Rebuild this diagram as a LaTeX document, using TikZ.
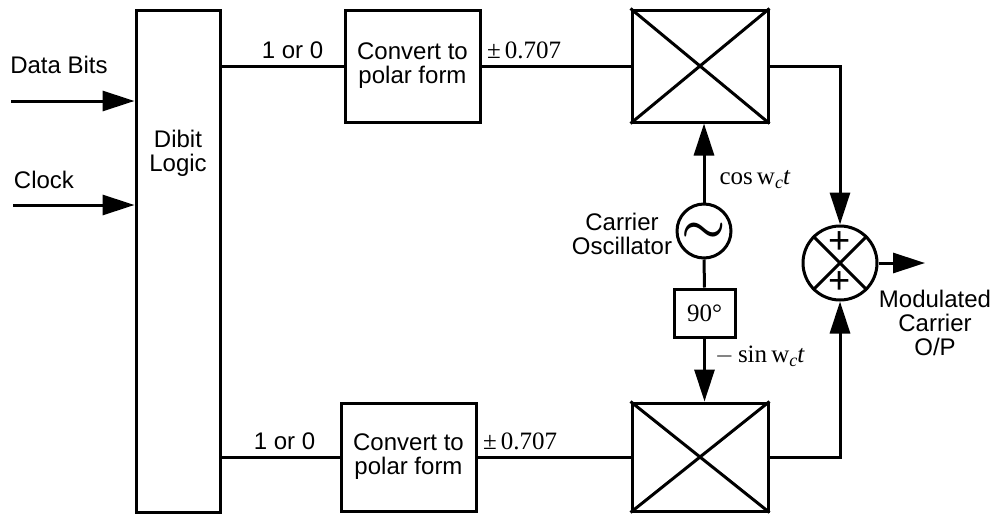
\documentclass[tikz,border=0pt]{standalone}
\usepackage{amsmath}
\usepackage{fontspec}
\setmainfont{Liberation Serif}
\setsansfont{Liberation Sans}
\usepackage{tikz}
\usetikzlibrary{positioning,arrows.meta,calc}

\begin{document}
\begin{tikzpicture}[x=0.5pt,y=-0.5pt,line width=1.5pt,font=\sffamily,
    >={Triangle[length=16pt,width=10pt]}]
  \tikzset{
    blk/.style={rectangle,draw=black,line width=1.5pt,inner sep=0pt,align=center,
                font=\sffamily\fontsize{12}{12}\selectfont},
    ring/.style={circle,draw=black,line width=1.5pt,inner sep=0pt},
    lbl/.style={font=\sffamily\fontsize{12}{12}\selectfont,align=center,inner sep=1pt},
    mlbl/.style={font=\rmfamily\fontsize{12.5}{12.5}\selectfont,inner sep=1pt}}
  \useasboundingbox (0,0) rectangle (996,514);
  % blocks
  \node[blk,minimum width=42pt,minimum height=251pt] (dibit) at (178,261){};
  \node[lbl] (dibittxt) at (178,153){Dibit\\Logic};
  \node[blk,minimum width=67.5pt,minimum height=56pt] (conv1) at (412.5,66){Convert to\\polar form};
  \node[blk,minimum width=67.5pt,minimum height=54pt] (conv2) at (408.5,457){Convert to\\polar form};
  \node[blk,minimum width=68pt,minimum height=56pt] (mix1) at (700,66){};
  \node[blk,minimum width=68pt,minimum height=54pt] (mix2) at (700,457){};
  \draw (mix1.north west)--(mix1.south east) (mix1.north east)--(mix1.south west);
  \draw (mix2.north west)--(mix2.south east) (mix2.north east)--(mix2.south west);
  \node[ring,minimum size=27pt] (osc) at (704,231){};
  \node[font=\fontsize{30}{30}\selectfont] (tilde) at ([yshift=-1pt]osc.center){$\boldsymbol{\sim}$};
  \node[blk,minimum width=30.5pt,minimum height=24pt,font=\rmfamily\fontsize{12.5}{12.5}\selectfont] (phase) at (704.5,313){90°};
  \node[ring,minimum size=37pt] (sum) at (840,263){};
  \draw (sum.north west)--(sum.south east) (sum.north east)--(sum.south west);
  \node[font=\sffamily\fontsize{19}{19}\selectfont] (plus1) at ([yshift=10pt]sum.center){+};
  \node[font=\sffamily\fontsize{19}{19}\selectfont] (plus2) at ([yshift=-10pt]sum.center){+};
  % inputs
  \coordinate (db) at (11,101);
  \coordinate (ck) at (13,205);
  \node[lbl] (dbtxt) at (59,65){Data Bits};
  \node[lbl] (cktxt) at (44,180){Clock};
  \draw[->] (db)--(db -| dibit.west);
  \draw[->] (ck)--(ck -| dibit.west);
  % I and Q paths
  \draw (dibit.east |- conv1.west)--(conv1.west)node[midway,above,lbl,inner sep=3pt,xshift=5pt]{1 or 0};
  \draw (dibit.east |- conv2.west)--(conv2.west)node[midway,above,lbl,inner sep=3pt,xshift=2pt]{1 or 0};
  \draw (conv1.east)--(mix1.west);
  \draw (conv2.east)--(mix2.west);
  \node[mlbl,above right=2pt and 1pt of conv1.east] (amp1){±\,0.707};
  \node[mlbl,above right=2pt and 1pt of conv2.east] (amp2){±\,0.707};
  % carrier
  \draw[->] (osc.north)--(osc.north |- mix1.south);
  \draw (osc.south)--(phase.north);
  \draw[->] (phase.south)--(phase.south |- mix2.north);
  \node[mlbl] (cos) at (755,180){cos\,w\raisebox{-2pt}{\fontsize{9}{9}\selectfont\itshape c}\textit{t}};
  \node[mlbl] (sin) at (760,356){$-$\,sin\,w\raisebox{-2pt}{\fontsize{9}{9}\selectfont\itshape c}\textit{t}};
  \node[lbl] (osctxt) at (622,234){Carrier\\Oscillator};
  % summing
  \draw[->] (mix1.east)--(sum |- mix1.east)--(sum.north);
  \draw[->] (mix2.east)--(sum |- mix2.east)--(sum.south);
  \coordinate (out) at (925,263);
  \draw[->] (sum.east)--(out);
  \node[lbl] (outtxt) at (935,323){Modulated\\Carrier\\O/P};
\end{tikzpicture}
\end{document}
